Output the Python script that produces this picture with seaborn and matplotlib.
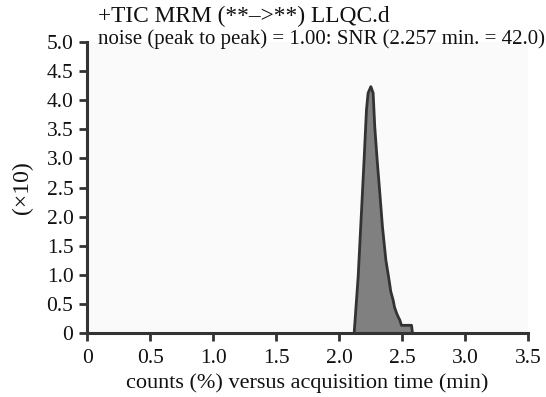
import matplotlib
matplotlib.use("Agg")
import matplotlib.pyplot as plt
import seaborn as sns
import pandas as pd
import numpy as np

# Data (time in min, counts x10)
time_min = [0.0, 2.119, 2.151, 2.178, 2.198, 2.217, 2.230, 2.252, 2.270, 2.283,
            2.302, 2.323, 2.344, 2.371, 2.397, 2.410, 2.429, 2.440, 2.456, 2.470,
            2.482, 2.495, 2.575, 2.583, 3.5]
counts = [0.0, 0.0, 0.97, 2.11, 2.97, 3.83, 4.12, 4.23, 4.12, 3.54,
          2.97, 2.41, 1.83, 1.26, 0.91, 0.72, 0.57, 0.45, 0.35, 0.28,
          0.23, 0.14, 0.14, 0.0, 0.0]
x_ticks = [0, 0.5, 1.0, 1.5, 2.0, 2.5, 3.0, 3.5]
x_tick_labels = ["0", "0.5", "1.0", "1.5", "2.0", "2.5", "3.0", "3.5"]
y_ticks = [0, 0.5, 1.0, 1.5, 2.0, 2.5, 3.0, 3.5, 4.0, 4.5, 5.0]
y_tick_labels = ["0", "0.5", "1.0", "1.5", "2.0", "2.5", "3.0", "3.5", "4.0", "4.5", "5.0"]
title_text = "+TIC MRM (**\u2013>**) LLQC.d"
subtitle_text = "noise (peak to peak) = 1.00: SNR (2.257 min. = 42.0)"
x_label = "counts (%) versus acquisition time (min)"
y_label = "(\u00d710)"

df = pd.DataFrame({"time": time_min, "counts": counts})

sns.set_style("ticks")
plt.rcParams["font.family"] = ["Liberation Serif", "DejaVu Serif"]

fig = plt.figure(figsize=(5.46, 3.97), dpi=100)
ax = fig.add_axes([0.160, 0.160, 0.807, 0.735])
ax.set_facecolor("#fafafa")

ax.fill_between(df["time"], df["counts"], 0, color="#808080", linewidth=0)
sns.lineplot(data=df, x="time", y="counts", ax=ax, color="#333333",
             linewidth=2.0, sort=False, estimator=None)

ax.set_xlim(0, 3.5)
ax.set_ylim(0, 5.0)
ax.set_xticks(x_ticks)
ax.set_xticklabels(x_tick_labels)
ax.set_yticks(y_ticks)
ax.set_yticklabels(y_tick_labels)
ax.tick_params(axis="both", labelsize=15.5, colors="#333333", labelcolor="#111111",
               width=2, length=6, direction="out")
ax.tick_params(axis="y", pad=4)
ax.tick_params(axis="x", pad=5)

for s in ["top", "right"]:
    ax.spines[s].set_visible(False)
for s in ["left", "bottom"]:
    ax.spines[s].set_color("#333333")
    ax.spines[s].set_linewidth(2.2)

ax.set_xlabel(x_label, fontsize=16, color="#111111", labelpad=4)
ax.set_ylabel(y_label, fontsize=17, color="#111111", labelpad=10)

ax.text(0.024, 1.088, title_text, transform=ax.transAxes, fontsize=16.8,
        color="#111111", ha="left", va="center")
ax.text(0.024, 1.008, subtitle_text, transform=ax.transAxes, fontsize=15,
        color="#111111", ha="left", va="center")

fig.savefig("out.png", dpi=100)
